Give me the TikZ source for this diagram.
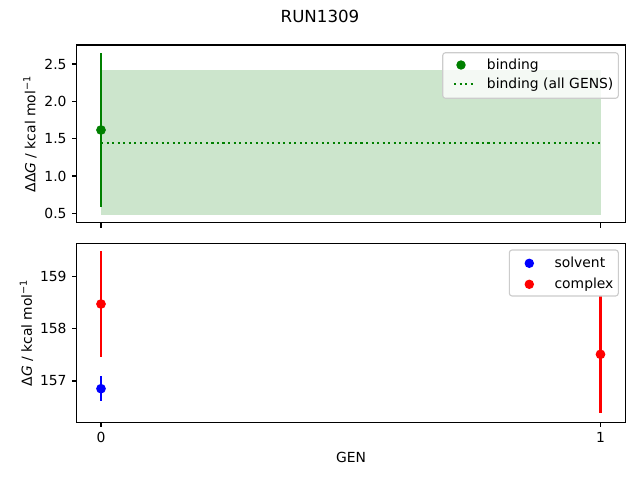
\documentclass[tikz,border=0pt]{standalone}
\usepackage{fontspec}
\setmainfont{DejaVu Sans}
\definecolor{mgreen}{RGB}{0,128,0}
\definecolor{mblue}{RGB}{0,0,255}
\definecolor{mred}{RGB}{255,0,0}
\definecolor{legedge}{RGB}{204,204,204}
\tikzset{
  axisframe/.style={draw=black, line width=0.8pt},
  tickmark/.style={draw=black, line width=0.8pt},
  ticklab/.style={inner sep=0pt, font=\fontsize{10}{12}\selectfont},
  errbar/.style={line width=1.5pt},
  dotmark/.style={circle, inner sep=0pt, minimum size=7pt},
  legdot/.style={circle, inner sep=0pt, minimum size=6.8pt},
  legbox/.style={draw=legedge, fill=white, fill opacity=0.8, line width=0.8pt, rounded corners=2pt},
  legtext/.style={inner sep=0pt, anchor=base west, font=\fontsize{10}{12}\selectfont},
  ylab/.style={inner sep=0pt, rotate=90, anchor=south, font=\fontsize{10}{12}\selectfont},
}
\begin{document}
\begin{tikzpicture}[x=0.72pt, y=-0.72pt]
\useasboundingbox (0,0) rectangle (640,480);
\fill[white] (0,0) rectangle (640,480);
% title
\node[inner sep=0pt, font=\fontsize{12}{14}\selectfont] (title) at (320,16) {RUN1309};
% ---------------- top axes ----------------
\fill[mgreen, opacity=0.2] (101,70) rectangle (600.5,215.3);
\draw[mgreen, line width=1.5pt, dash pattern=on 1.5pt off 2.475pt] (101,142.7) -- (600.5,142.7);
\draw[mgreen, errbar] (101,53.3) -- (101,206.7);
\node[dotmark, fill=mgreen] (pbind) at (101,130) {};
\draw[axisframe] (76.5,45) rectangle (625.5,222.7);
\foreach \yy/\lab in {64/2.5, 101.3/2.0, 138.7/1.5, 176/1.0, 213.3/0.5}{
  \draw[tickmark] (76.5,\yy) -- (71.6,\yy);
  \node[ticklab, anchor=east] at (66.8,\yy) {\lab};
}
\foreach \xx in {101,600.5}{
  \draw[tickmark] (\xx,222.7) -- (\xx,227.6);
}
\node[ylab] (ylabtop) at (37,134) {ΔΔ{\itshape G} / kcal mol\textsuperscript{−1}};
% legend top
\draw[legbox] (442.7,52.7) rectangle (618.3,98.3);
\node[legdot, fill=mgreen] (lgb) at (461,65) {};
\node[legtext] (lgbt) at (486.7,69) {binding};
\draw[mgreen, line width=1.5pt, dash pattern=on 1.5pt off 2.475pt] (454,84.3) -- (474,84.3);
\node[legtext] (lgat) at (486.7,88.3) {binding (all GENS)};
% ---------------- bottom axes ----------------
\draw[mblue, errbar] (101,376) -- (101,400.7);
\node[dotmark, fill=mblue] (psolv) at (101,388.7) {};
\draw[mred, errbar] (101,251) -- (101,356.7);
\node[dotmark, fill=mred] (pcomp0) at (101,304) {};
\draw[mred, errbar] (600.5,285) -- (600.5,413.3);
\node[dotmark, fill=mred] (pcomp1) at (600.5,354.3) {};
\draw[axisframe] (76.5,243.3) rectangle (625.5,422.3);
\foreach \yy/\lab in {276.3/159, 328.7/158, 381/157}{
  \draw[tickmark] (76.5,\yy) -- (71.6,\yy);
  \node[ticklab, anchor=east] at (66.8,\yy) {\lab};
}
\foreach \xx/\lab in {101/0, 600.5/1}{
  \draw[tickmark] (\xx,422.3) -- (\xx,427.2);
  \node[ticklab, anchor=north] at (\xx,432) {\lab};
}
\node[ticklab] (xlab) at (351,457.7) {GEN};
\node[ylab] (ylabbot) at (33.5,332.8) {Δ{\itshape G} / kcal mol\textsuperscript{−1}};
% legend bottom
\draw[legbox, fill opacity=1] (509.3,250) rectangle (618.3,296);
\node[legdot, fill=mblue] (lgs) at (529.3,263.3) {};
\node[legtext] (lgst) at (554.3,267.3) {solvent};
\node[legdot, fill=mred] (lgc) at (529.3,284.3) {};
\node[legtext] (lgct) at (554.3,288.3) {complex};
\end{tikzpicture}
\end{document}
